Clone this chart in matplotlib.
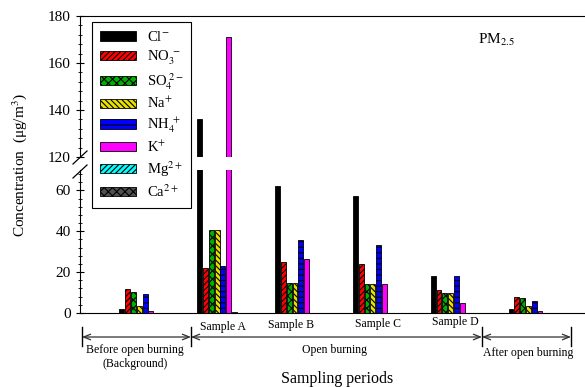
import numpy as np
import matplotlib
matplotlib.use("Agg")
import matplotlib.pyplot as plt
from matplotlib.ticker import AutoMinorLocator

plt.rcParams['font.family'] = ['Liberation Serif', 'DejaVu Serif']
plt.rcParams['mathtext.fontset'] = 'stix'
plt.rcParams['hatch.linewidth'] = 0.8

# data (ug/m3)
periods = ['Background', 'Sample A', 'Sample B', 'Sample C', 'Sample D', 'After']
ions = ['Cl$^{-}$', 'NO$_3^{\\ -}$', 'SO$_4^{\\ 2-}$', 'Na$^{+}$',
        'NH$_4^{\\ +}$', 'K$^{+}$', 'Mg$^{2+}$', 'Ca$^{2+}$']
cl = [2.0, 136.0, 62.0, 57.3, 18.2, 2.1]
no3 = [11.7, 22.2, 25.0, 23.8, 11.3, 7.9]
so4 = [10.2, 40.7, 14.6, 14.1, 9.7, 7.2]
na = [3.3, 40.7, 14.6, 14.1, 9.7, 3.4]
nh4 = [9.2, 23.2, 35.5, 33.5, 17.9, 6.1]
k = [1.1, 171.2, 26.4, 14.1, 4.9, 1.0]
mg = [0.0, 0.6, 0.0, 0.0, 0.0, 0.0]
ca = [0.0, 0.0, 0.0, 0.0, 0.0, 0.0]
series = [cl, no3, so4, na, nh4, k, mg, ca]

colors = ['black', 'red', '#00b000', '#e8e000', 'blue', 'magenta', 'cyan', '#505050']
hatches = [None, '//////', 'xxxx', '\\\\\\\\\\\\', '---', None, '//////', 'xxxx']

fig = plt.figure(figsize=(5.85, 3.87), dpi=100)
W, H = 585.0, 387.0
ax_top = fig.add_axes([80 / W, 1 - 157 / H, 1 - 80 / W, 141 / H])
ax_bot = fig.add_axes([80 / W, 1 - 313 / H, 1 - 80 / W, 143 / H])

x = np.arange(len(periods))
w = 0.0746
handles = []
for ax in (ax_top, ax_bot):
    for i, vals in enumerate(series):
        b = ax.bar(x + (i - 3.5) * w, vals, width=w * 0.85, color=colors[i],
                   hatch=hatches[i], edgecolor='black', linewidth=0.6,
                   label=ions[i])
        if ax is ax_top:
            handles.append(b)
    ax.set_xlim(-0.80, 5.69)
    ax.set_xticks([])
    ax.spines['right'].set_visible(False)
    ax.yaxis.set_minor_locator(AutoMinorLocator(5))
    ax.tick_params(axis='y', which='major', direction='inout', length=6,
                   labelsize=11)
    ax.tick_params(axis='y', which='minor', direction='inout', length=3)

ax_top.set_ylim(120, 180)
ax_top.set_yticks([120, 140, 160, 180])
ax_top.spines['bottom'].set_visible(False)
ax_bot.set_ylim(0, 70)
ax_bot.set_yticks([0, 20, 40, 60])
ax_bot.spines['top'].set_visible(False)

# break marks on the y axis
for y0 in (164, 178):
    fig.add_artist(plt.Line2D([73 / W, 87 / W], [1 - y0 / H, 1 - (y0 - 13) / H],
                              color='black', lw=0.9))

fig.text(20 / W, 1 - 165 / H, 'Concentration  (μg/m$^3$)', rotation=90,
         ha='center', va='center', fontsize=11)
fig.text(496 / W, 1 - 40 / H, 'PM$_{2.5}$', ha='center', va='center', fontsize=11)

leg = fig.legend(handles=handles, loc='upper left',
                 bbox_to_anchor=(92 / W, 1 - 22 / H), borderaxespad=0,
                 fancybox=False, edgecolor='black', framealpha=1,
                 fontsize=10.5, handlelength=2.5, handleheight=0.6,
                 labelspacing=0.3, borderpad=0.55, handletextpad=0.7)
leg.get_frame().set_linewidth(0.8)

# sample labels
sample_pos = [(223, 327, 'Sample A'), (291, 325, 'Sample B'),
              (378, 324, 'Sample C'), (455, 322, 'Sample D')]
for px, py, s in sample_pos:
    fig.text(px / W, 1 - py / H, s, ha='center', va='center', fontsize=8.5)

# period brackets
yb = 1 - 337 / H
for x0, x1 in [(82, 191), (191, 482), (482, 571)]:
    fig.add_artist(matplotlib.patches.FancyArrowPatch(
        (x0 / W, yb), (x1 / W, yb), transform=fig.transFigure,
        arrowstyle='<->,head_length=5,head_width=2', color='#303030',
        lw=0.9, shrinkA=0, shrinkB=0))
for xv in (82, 191, 482, 571):
    fig.add_artist(plt.Line2D([xv / W, xv / W], [1 - 327 / H, 1 - 346 / H],
                              color='black', lw=1.0))

fig.text(135 / W, 1 - 350 / H, 'Before open burning', ha='center', va='center', fontsize=8.5)
fig.text(135 / W, 1 - 364 / H, '(Background)', ha='center', va='center', fontsize=8.5)
fig.text(335 / W, 1 - 350 / H, 'Open burning', ha='center', va='center', fontsize=8.5)
fig.text(528 / W, 1 - 353 / H, 'After open burning', ha='center', va='center', fontsize=8.5)
fig.text(337 / W, 1 - 379 / H, 'Sampling periods', ha='center', va='center', fontsize=11.5)

fig.savefig('out.png', dpi=100)
